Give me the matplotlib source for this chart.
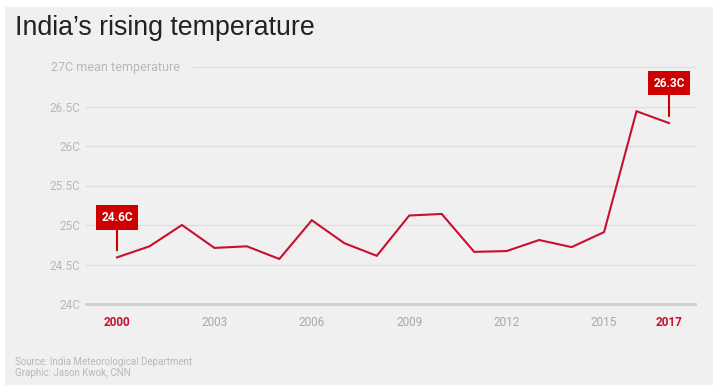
import matplotlib
matplotlib.use("Agg")
import matplotlib.pyplot as plt
import matplotlib.transforms as mtransforms
from matplotlib.patches import Rectangle

# ---- data ----
years = list(range(2000, 2018))
temps = [24.59, 24.73, 25.00, 24.71, 24.73, 24.57, 25.06, 24.77, 24.61,
         25.12, 25.14, 24.66, 24.67, 24.81, 24.72, 24.91, 26.44, 26.29]
xtick_years = [2000, 2003, 2006, 2009, 2012, 2015, 2017]
highlight_years = [2000, 2017]
yticks = [24.0, 24.5, 25.0, 25.5, 26.0, 26.5, 27.0]
ytick_labels = ["24C", "24.5C", "25C", "25.5C", "26C", "26.5C", "27C mean temperature"]
callouts = [(2000, "24.6C"), (2017, "26.3C")]
title = "India\u2019s rising temperature"
source_lines = ["Source: India Meteorological Department", "Graphic: Jason Kwok, CNN"]

BG = "#f0f0f0"
RED = "#c8102e"
BOXRED = "#cc0000"
GRID = "#dedede"
LABEL = "#b8b8b8"

plt.rcParams['font.family'] = ['Roboto', 'DejaVu Sans']

W, H = 720, 385
fig = plt.figure(figsize=(7.2, 3.85), dpi=100)
fig.patch.set_facecolor("white")
fig.patches.append(Rectangle((5 / W, 0), (713 - 5) / W, (H - 7) / H,
                             transform=fig.transFigure, facecolor=BG,
                             edgecolor="none", zorder=-10))

ax_left, ax_right = 86, 695
ax_top, ax_bottom = 67, 304
ax = fig.add_axes([ax_left / W, 1 - ax_bottom / H, (ax_right - ax_left) / W,
                   (ax_bottom - ax_top) / H])
ax.set_facecolor("none")
x0 = 2000 - (117 - ax_left) / 32.47
x1 = 2017 + (ax_right - 669) / 32.47
ax.set_xlim(x0, x1)
ax.set_ylim(24.0, 27.0)
for s in ax.spines.values():
    s.set_visible(False)

# grid lines
top_start = (193 - ax_left) / (ax_right - ax_left)
for yv in yticks[1:]:
    xmin = top_start if yv == yticks[-1] else 0
    ax.axhline(yv, xmin=xmin, xmax=1, color=GRID, lw=0.9, zorder=1, clip_on=False)
ax.axhline(yticks[0], color="#cfcfcf", lw=2.0, zorder=1, clip_on=False)

# line
ax.plot(years, temps, color=RED, lw=1.5, zorder=3, clip_on=False,
        solid_joinstyle="miter")

# y tick labels
ax.set_yticks(yticks[:-1])
ax.set_yticklabels(ytick_labels[:-1])
ax.tick_params(axis="y", length=0, pad=4, labelsize=8.5, labelcolor=LABEL)
trans = mtransforms.blended_transform_factory(fig.transFigure, ax.transData)
fig.text(51 / W, yticks[-1], ytick_labels[-1], transform=trans, ha="left",
         va="center", fontsize=9, color=LABEL)

# x tick labels
ax.set_xticks(xtick_years)
ax.set_xticklabels([str(y) for y in xtick_years])
ax.tick_params(axis="x", length=0, pad=9, labelsize=8.5, labelcolor="#a8a8a8")
for lbl, yr in zip(ax.get_xticklabels(), xtick_years):
    if yr in highlight_years:
        lbl.set_color(RED)
        lbl.set_fontweight("bold")

# callouts
for yr, txt in callouts:
    val = temps[years.index(yr)]
    ax.annotate(txt, xy=(yr, val), xycoords="data",
                xytext=(0, 40 * 0.72), textcoords="offset points",
                ha="center", va="center", fontsize=8.5, fontweight="bold",
                color="white", zorder=5, annotation_clip=False,
                bbox=dict(boxstyle="square,pad=0.48", fc=BOXRED, ec="none"),
                arrowprops=dict(arrowstyle="-", color=BOXRED, lw=1.5,
                                shrinkA=0, shrinkB=7 * 0.72))

# title
fig.text(15 / W, 1 - 28 / H, title, ha="left", va="center", fontsize=19.3,
         color="#222222", family=["Liberation Sans", "DejaVu Sans"])

# source
fig.text(15 / W, 1 - 362 / H, source_lines[0], ha="left", va="center",
         fontsize=7, color=LABEL)
fig.text(15 / W, 1 - 373 / H, source_lines[1], ha="left", va="center",
         fontsize=7, color=LABEL)

fig.savefig("out.png", dpi=100, facecolor=fig.get_facecolor())
